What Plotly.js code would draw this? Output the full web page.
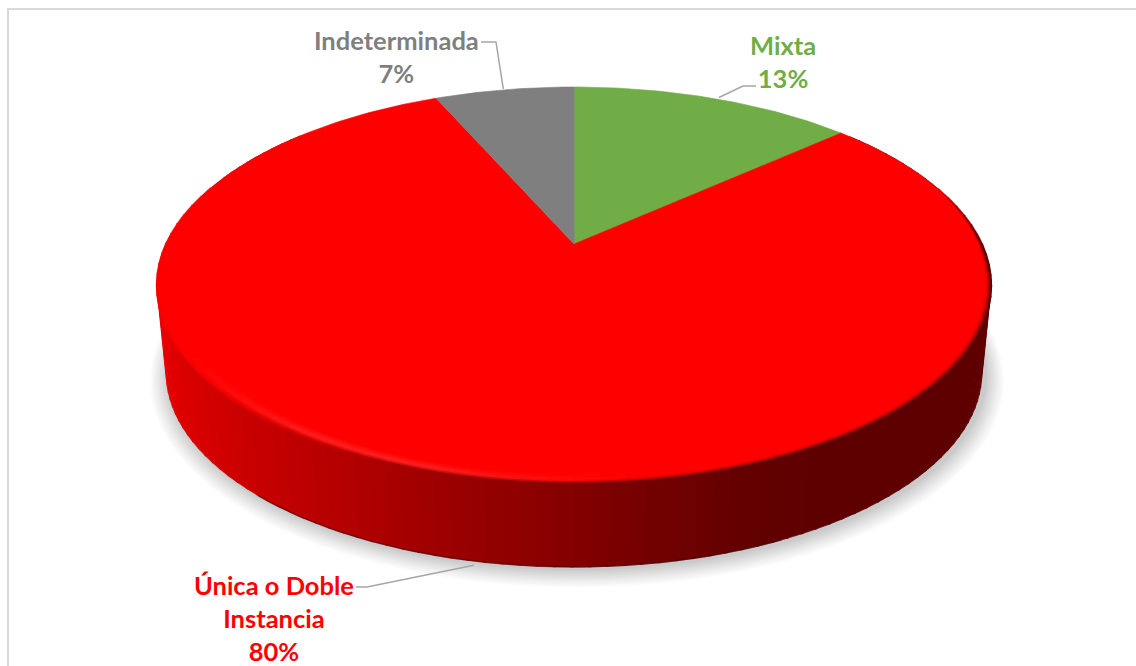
<!DOCTYPE html>
<html>
<head>
<meta charset="utf-8">
<script src="https://cdn.plot.ly/plotly-3.0.1.min.js"></script>
<style>html,body{margin:0;padding:0;background:#fff}#chart{width:1136px;height:666px}</style>
</head>
<body>
<div id="chart"></div>
<script>
// ---- data ----
const categories = ["Mixta", "Única o Doble<br>Instancia", "Indeterminada"];
const values = [13.4, 80, 6.6];
const sliceColors = ["#70ad47", "#ff0000", "#7f7f7f"];
const labelColors = ["#70ad47", "#ff0000", "#7f7f7f"];

// ---- 3D look: perspective projection of the pie disc onto the pixel-sized axes ----
const CX = 574, CY = 244, AX = 407.8, CV = 189.8, P = 0.209;
const LOWER_SCALE = 0.978, LOWER_DY = 88.3;
const rad = d => d * Math.PI / 180;
function project(theta, r, lower) {
  const u = r * Math.sin(rad(theta)), v = r * Math.cos(rad(theta));
  const w = 1 + P * v;
  let x = AX * u / w, y = -CV * v / w, dy = 0;
  if (lower) { x *= LOWER_SCALE; y *= LOWER_SCALE; dy = LOWER_DY; }
  return [CX + x, CY + y + dy];
}
const wallStops = [[155,238],[175,222],[250,200],[350,178],[450,155],[560,135],[650,115],[740,100],[830,94],[1000,94]];
function wallRed(x) {
  for (let i = 1; i < wallStops.length; i++) {
    if (x <= wallStops[i][0]) {
      const a = wallStops[i-1], b = wallStops[i];
      return a[1] + (b[1]-a[1]) * Math.max(0,(x-a[0]))/(b[0]-a[0]);
    }
  }
  return 94;
}
const traces = [];
function poly(pts, color, opacity) {
  traces.push({type:"scatter", mode:"lines", x:pts.map(p=>p[0]), y:pts.map(p=>p[1]),
    fill:"toself", fillcolor:color, line:{color:color, width:0.6}, opacity:opacity===undefined?1:opacity,
    hoverinfo:"skip", showlegend:false});
}
// soft shadow under the disc
const shadowSteps = [[1.045,6,0.016],[1.04,5.5,0.018],[1.034,5,0.02],[1.028,4.5,0.022],[1.022,4,0.024],[1.016,3.5,0.026],[1.01,3,0.028],[1.005,2,0.03]];
shadowSteps.forEach(s => {
  const pts = [];
  for (let t = 60; t <= 300; t += 3) {
    const p = project(t, 1, true);
    pts.push([CX + 3 + (p[0]-CX)*s[0], CY + LOWER_DY + s[1] + (p[1]-CY-LOWER_DY)*(s[0]+ (s[0]-1)*0.3)]);
  }
  poly(pts, "#000000", s[2]);
});
// side wall
for (let t = 50; t < 310; t += 2) {
  const a = project(t,1,false), b = project(t+2.4,1,false), c = project(t+2.4,1,true), d = project(t,1,true);
  const red = Math.round(wallRed((a[0]+b[0]+c[0]+d[0])/4));
  poly([a,b,c,d], `rgb(${red},0,0)`);
}
// darker lower edge of the wall
const edge = [];
for (let t = 155; t <= 222; t += 1) edge.push(project(t,1,true));
traces.push({type:"scatter",mode:"lines",x:edge.map(p=>p[0]),y:edge.map(p=>p[1]),line:{color:"#3c0000",width:1.4},opacity:0.55,hoverinfo:"skip",showlegend:false});

// top face slices, drawn from the values
const total = values.reduce((a,b)=>a+b,0);
let start = 0;
const mids = [];
values.forEach((val,i) => {
  const sweep = val/total*360, pts = [project(0,0,false)];
  const n = Math.ceil(sweep);
  for (let k = 0; k <= n; k++) pts.push(project(start + sweep*k/n, 1, false));
  pts.push(project(0,0,false));
  poly(pts, sliceColors[i]);
  mids.push(start + sweep/2);
  start += sweep;
});
// rim bevel of the red slice
const RIM = 0.032, RINGS = 7, SEG = 3;
for (let j = 0; j < RINGS; j++) {
  const f = j/(RINGS-1);
  for (let t = 72; t < 288; t += SEG) {
    const mid = t+SEG/2;
    const taper = Math.min(1, Math.min(mid-72, 288-mid)/28);
    const r = 1 - (1-f)*RIM*taper;
    const pts = [project(t,r,false), project(t+SEG/2,r,false), project(t+SEG+0.3,r,false)];
    const x = pts[1][0];
    const h = Math.max(0, Math.min(1,(640-x)/220, (x-185)/130));
    const wr = wallRed(x);
    const dark = Math.max(0, Math.min(1,(x-190)/200));
    let R,G;
    const pk = 0.6;
    if (f < pk) { R = 255; G = 34*h*f/pk; }
    else { const q = Math.pow((f-pk)/(1-pk),1.2); R = 255+(wr-255)*q*(0.25+0.75*dark); G = 34*h*(1-q); }
    const col = `rgb(${Math.round(R)},${Math.round(G)},${Math.round(G)})`;
    traces.push({type:"scatter",mode:"lines",x:pts.map(p=>p[0]),y:pts.map(p=>p[1]),
      line:{color:col,width:2.4},opacity:Math.min(1,taper*1.4),hoverinfo:"skip",showlegend:false});
  }
}
// leader lines from label to slice middle
const leaderLabelEnds = [[[756,86],[743,86]], [[356,587],[367,587]], [[481,42],[496,42]]];
const leaderLower = [false,true,false];
const leaderNudge = [[5,-1],[6,5],[-1,-1]];
mids.forEach((m,i) => {
  const e = project(m, 1, leaderLower[i]);
  const pts = leaderLabelEnds[i].concat([[e[0]+leaderNudge[i][0],e[1]+leaderNudge[i][1]]]);
  traces.push({type:"scatter",mode:"lines",x:pts.map(p=>p[0]),y:pts.map(p=>p[1]),
    line:{color:"#a6a6a6",width:1.5},hoverinfo:"skip",showlegend:false});
});

// labels
const labelPos = [[783,61.5],[274,618],[396,56.5]];
const annotations = categories.map((c,i) => ({
  x:labelPos[i][0], y:labelPos[i][1], xref:"x", yref:"y", showarrow:false,
  text:`<b>${c}<br>${Math.round(values[i]/total*100)}%</b>`,
  align:"center", xanchor:"center", yanchor:"middle",
  font:{family:"Lato, Carlito, sans-serif", size:25.5, color:labelColors[i]}
}));

const layout = {
  width:1136, height:666, margin:{l:0,r:0,t:0,b:0},
  paper_bgcolor:"#fff", plot_bgcolor:"#fff", showlegend:false,
  xaxis:{range:[0,1136],visible:false,fixedrange:true},
  yaxis:{range:[666,0],visible:false,fixedrange:true},
  annotations,
  shapes:[{type:"path",xref:"x",yref:"y",path:"M8,666 L8,9 L1136,9",line:{color:"#d9d9d9",width:2},layer:"below"}]
};
Plotly.newPlot("chart", traces, layout, {displayModeBar:false, staticPlot:true});
</script>
</body>
</html>
